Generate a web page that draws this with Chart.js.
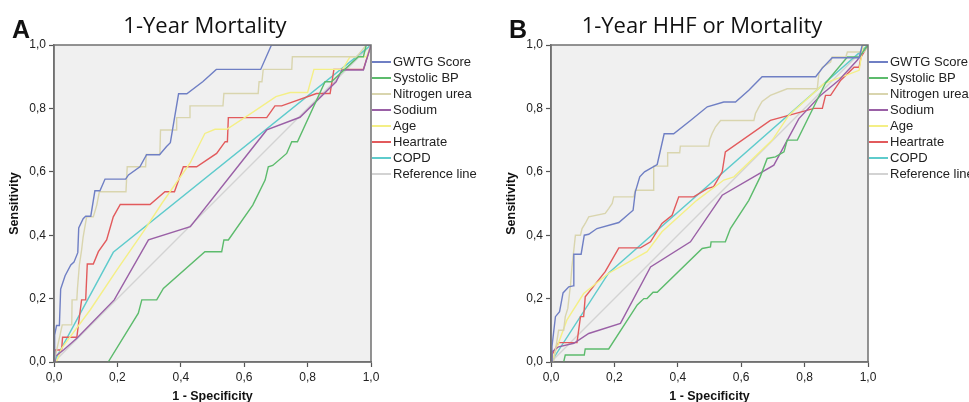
<!DOCTYPE html>
<html>
<head>
<meta charset="utf-8">
<script src="https://cdn.jsdelivr.net/npm/chart.js@4.4.1/dist/chart.umd.min.js"></script>
<style>
  html, body { margin: 0; padding: 0; background: #fff; }
  body { width: 969px; height: 402px; overflow: hidden; position: relative; font-family: "Liberation Sans", Arial, sans-serif; }
  .panel { position: absolute; top: 0; height: 402px; }
  .panel canvas { position: absolute; left: 0; top: 0; }
  .letter { position: absolute; left: 12px; top: 15px; font: bold 25px "Liberation Sans", Arial, sans-serif; color: #111; }
  .title { position: absolute; left: 0; width: 410px; top: 9px; text-align: center; font: 22px "Open Sans", sans-serif; color: #111; }
  .legend { position: absolute; left: 372px; top: 54px; font-size: 13px; color: #222; white-space: nowrap; }
  .legend div { height: 16px; line-height: 16px; position: relative; padding-left: 21px; }
  .legend span.sw { position: absolute; left: 0; top: 7px; width: 19px; height: 2px; }
</style>
</head>
<body>
<div class="panel" id="panelA" style="left:0;width:497px;">
  <canvas id="chartA" width="400" height="412"></canvas>
  <div class="letter">A</div>
  <div class="title">1-Year Mortality</div>
  <div class="legend" id="legendA"></div>
</div>
<div class="panel" id="panelB" style="left:497px;width:472px;">
  <canvas id="chartB" width="400" height="412"></canvas>
  <div class="letter">B</div>
  <div class="title">1-Year HHF or Mortality</div>
  <div class="legend" id="legendB"></div>
</div>

<script>
// series names / colours (legend order)
const seriesNames = ['GWTG Score', 'Systolic BP', 'Nitrogen urea', 'Sodium', 'Age', 'Heartrate', 'COPD', 'Reference line'];
const seriesColors = ['#6f7fc4', '#5cbb6c', '#d9d5ae', '#9a60a6', '#f4ef86', '#e25a5c', '#5ecbcc', '#d3d3d3'];
const tickValues = [0, 0.2, 0.4, 0.6, 0.8, 1.0];

// Panel A - 1-Year Mortality, points are [1 - specificity, sensitivity]
const gwtgA = [[0,0],[0.002,0.085],[0.008,0.115],[0.017,0.115],[0.021,0.23],[0.035,0.272],[0.053,0.306],[0.063,0.315],[0.075,0.345],[0.078,0.423],[0.092,0.452],[0.10,0.46],[0.116,0.46],[0.129,0.54],[0.145,0.54],[0.161,0.577],[0.226,0.577],[0.235,0.59],[0.271,0.616],[0.292,0.654],[0.333,0.654],[0.355,0.68],[0.367,0.692],[0.393,0.846],[0.419,0.846],[0.47,0.885],[0.512,0.923],[0.652,0.923],[0.686,1],[1,1]];
const sbpA = [[0.171,0],[0.266,0.154],[0.277,0.196],[0.324,0.196],[0.345,0.232],[0.476,0.348],[0.529,0.348],[0.536,0.385],[0.55,0.385],[0.627,0.495],[0.666,0.574],[0.676,0.616],[0.69,0.62],[0.734,0.658],[0.75,0.695],[0.768,0.695],[0.855,0.884],[0.875,0.884],[0.96,0.963],[0.976,0.963],[0.985,1],[1,1]];
const nitroA = [[0,0],[0.018,0.08],[0.026,0.117],[0.056,0.117],[0.057,0.196],[0.072,0.196],[0.074,0.232],[0.08,0.306],[0.087,0.353],[0.092,0.395],[0.103,0.458],[0.124,0.458],[0.135,0.495],[0.143,0.537],[0.227,0.537],[0.231,0.616],[0.289,0.616],[0.291,0.655],[0.334,0.655],[0.336,0.732],[0.385,0.732],[0.387,0.771],[0.427,0.771],[0.429,0.808],[0.533,0.808],[0.536,0.847],[0.644,0.847],[0.647,0.884],[0.656,0.884],[0.66,0.923],[0.75,0.923],[0.752,0.963],[0.955,0.963],[0.985,1],[1,1]];
const sodiumA = [[0,0],[0.003,0.017],[0.03,0.038],[0.072,0.075],[0.19,0.196],[0.298,0.385],[0.43,0.427],[0.671,0.732],[0.776,0.772],[0.89,0.884],[0.908,0.921],[0.976,0.921],[1,1]];
const ageA = [[0.008,0],[0.024,0.043],[0.114,0.164],[0.198,0.29],[0.282,0.411],[0.34,0.5],[0.429,0.627],[0.476,0.721],[0.508,0.734],[0.545,0.734],[0.63,0.79],[0.70,0.837],[0.745,0.85],[0.80,0.85],[0.82,0.923],[0.91,0.923],[0.934,0.963],[0.986,0.963],[1,1]];
const heartA = [[0,0],[0.003,0.038],[0.024,0.038],[0.027,0.078],[0.072,0.078],[0.087,0.196],[0.10,0.196],[0.105,0.309],[0.124,0.309],[0.14,0.348],[0.166,0.385],[0.187,0.458],[0.209,0.497],[0.303,0.497],[0.35,0.537],[0.38,0.537],[0.408,0.616],[0.45,0.616],[0.513,0.658],[0.54,0.695],[0.547,0.695],[0.55,0.771],[0.671,0.771],[0.697,0.808],[0.718,0.808],[0.828,0.847],[0.871,0.847],[0.883,0.923],[0.976,0.923],[1,1]];
const copdA = [[0,0],[0.187,0.346],[1,1]];

// Panel B - 1-Year HHF or Mortality
const gwtgB = [[0,0],[0.003,0.048],[0.014,0.143],[0.027,0.159],[0.038,0.218],[0.056,0.237],[0.07,0.24],[0.072,0.34],[0.095,0.34],[0.105,0.40],[0.119,0.403],[0.145,0.421],[0.214,0.44],[0.259,0.479],[0.266,0.537],[0.28,0.584],[0.295,0.6],[0.335,0.623],[0.357,0.72],[0.387,0.72],[0.44,0.762],[0.493,0.805],[0.545,0.82],[0.582,0.82],[0.624,0.857],[0.666,0.90],[0.835,0.90],[0.856,0.927],[0.887,0.96],[0.972,0.96],[0.982,1],[1,1]];
const sbpB = [[0.04,0],[0.045,0.022],[0.105,0.022],[0.108,0.041],[0.182,0.041],[0.272,0.18],[0.293,0.20],[0.303,0.20],[0.322,0.22],[0.335,0.22],[0.477,0.358],[0.503,0.363],[0.505,0.379],[0.55,0.379],[0.566,0.421],[0.624,0.51],[0.66,0.584],[0.682,0.642],[0.708,0.647],[0.735,0.663],[0.745,0.70],[0.777,0.70],[0.866,0.88],[0.935,0.962],[0.972,0.962],[1,1]];
const nitroB = [[0.008,0],[0.024,0.10],[0.04,0.10],[0.045,0.143],[0.053,0.169],[0.062,0.248],[0.066,0.30],[0.072,0.353],[0.077,0.40],[0.093,0.40],[0.098,0.421],[0.108,0.437],[0.119,0.458],[0.171,0.469],[0.182,0.484],[0.193,0.50],[0.198,0.521],[0.261,0.521],[0.266,0.542],[0.322,0.542],[0.324,0.618],[0.366,0.618],[0.368,0.66],[0.406,0.66],[0.408,0.681],[0.498,0.681],[0.501,0.702],[0.508,0.72],[0.519,0.742],[0.535,0.762],[0.64,0.762],[0.645,0.784],[0.656,0.805],[0.666,0.822],[0.692,0.841],[0.745,0.862],[0.84,0.862],[0.845,0.91],[0.856,0.93],[0.882,0.946],[0.887,0.962],[0.93,0.962],[0.935,0.978],[0.987,0.978],[1,1]];
const sodiumB = [[0,0],[0.003,0.032],[0.024,0.048],[0.072,0.059],[0.119,0.09],[0.219,0.122],[0.314,0.30],[0.44,0.379],[0.519,0.495],[0.54,0.526],[0.703,0.621],[0.782,0.768],[0.85,0.841],[0.908,0.889],[0.966,0.952],[1,1]];
const ageB = [[0,0],[0.008,0.017],[0.05,0.132],[0.103,0.216],[0.182,0.28],[0.303,0.348],[0.35,0.411],[0.46,0.51],[0.545,0.574],[0.577,0.584],[0.698,0.70],[0.75,0.778],[0.861,0.878],[0.972,0.92],[0.985,1],[1,1]];
const heartB = [[0,0],[0.003,0.022],[0.024,0.061],[0.082,0.061],[0.093,0.143],[0.103,0.143],[0.108,0.206],[0.171,0.285],[0.214,0.36],[0.282,0.36],[0.314,0.379],[0.35,0.437],[0.382,0.463],[0.403,0.521],[0.45,0.521],[0.493,0.547],[0.513,0.553],[0.54,0.60],[0.55,0.663],[0.692,0.762],[0.83,0.80],[0.856,0.80],[0.866,0.841],[0.882,0.841],[0.914,0.889],[0.956,0.93],[0.972,0.93],[0.978,0.962],[1,1]];
const copdB = [[0,0],[0.182,0.281],[1,1]];

const refLine = [[0,0],[1,1]];

// grey plot background + frame round the chart area
const plotFrame = {
    id: 'plotFrame',
    beforeDraw(chart) {
        const { ctx, chartArea: a } = chart;
        ctx.save();
        ctx.fillStyle = '#f0f0f0';
        ctx.fillRect(a.left, a.top, a.right - a.left, a.bottom - a.top);
        ctx.restore();
    },
    afterDraw(chart) {
        const { ctx, chartArea: a } = chart;
        ctx.save();
        ctx.strokeStyle = '#707070';
        ctx.lineWidth = 1.5;
        ctx.strokeRect(a.left, a.top, a.right - a.left, a.bottom - a.top);
        ctx.restore();
    }
};

const fmt = v => v.toFixed(1).replace('.', ',');
const tickFont = { family: '"Liberation Sans", Arial, sans-serif', size: 12 };
const titleFont = { family: '"Liberation Sans", Arial, sans-serif', size: 12.5, weight: 'bold' };

function axis(titleText, fitFn) {
    return {
        type: 'linear',
        min: 0,
        max: 1,
        afterBuildTicks: s => { s.ticks = tickValues.map(v => ({ value: v })); },
        ticks: { callback: fmt, font: tickFont, color: '#222', padding: 3, maxRotation: 0 },
        grid: { drawOnChartArea: false, drawTicks: true, tickLength: 5, color: '#555', tickWidth: 1.2 },
        border: { color: '#707070', width: 1.5 },
        title: { display: true, text: titleText, font: titleFont, color: '#111', padding: { top: 7.5, bottom: 7.5 } },
        afterFit: fitFn
    };
}

function makePanel(canvasId, legendId, series) {
    // order: GWTG drawn on top, reference line at the back
    const datasets = series.map((pts, i) => ({
        label: seriesNames[i],
        data: pts.map(p => ({ x: p[0], y: p[1] })),
        borderColor: seriesColors[i],
        borderWidth: 1.4,
        pointRadius: 0,
        tension: 0,
        fill: false,
        order: i
    }));

    new Chart(document.getElementById(canvasId), {
        type: 'line',
        data: { datasets },
        options: {
            responsive: false,
            animation: false,
            layout: { padding: { left: 0, top: 45, right: 29, bottom: 0 } },
            plugins: { legend: { display: false }, tooltip: { enabled: false } },
            scales: {
                x: axis('1 - Specificity', s => { s.height = 50; }),
                y: axis('Sensitivity', s => { s.width = 54; })
            }
        },
        plugins: [plotFrame]
    });

    const legend = document.getElementById(legendId);
    legend.innerHTML = seriesNames.map((name, i) =>
        `<div><span class="sw" style="background:${seriesColors[i]}"></span>${name}</div>`).join('');
}

makePanel('chartA', 'legendA', [gwtgA, sbpA, nitroA, sodiumA, ageA, heartA, copdA, refLine]);
makePanel('chartB', 'legendB', [gwtgB, sbpB, nitroB, sodiumB, ageB, heartB, copdB, refLine]);
</script>
</body>
</html>
